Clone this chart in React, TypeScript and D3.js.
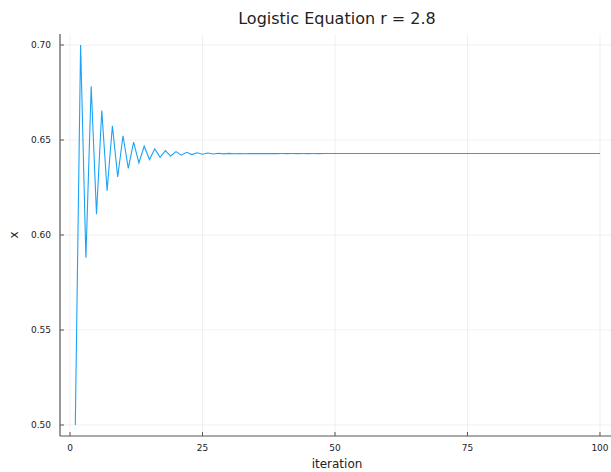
import React from "react";
import * as d3 from "d3";

const title = "Logistic Equation r = 2.8";
const xLabel = "iteration";
const yLabel = "x";
const xTicks = [0, 25, 50, 75, 100];
const yTicks = [0.5, 0.55, 0.6, 0.65, 0.7];

// x_n for iterations 1..100
const xValues = [
  0.5, 0.7, 0.588, 0.67832, 0.61097, 0.66552, 0.62329, 0.65744, 0.6306, 0.65225,
  0.6351, 0.64889, 0.63793, 0.64673, 0.63971, 0.64534, 0.64085, 0.64445, 0.64157, 0.64388,
  0.64204, 0.64351, 0.64233, 0.64328, 0.64252, 0.64313, 0.64264, 0.64303, 0.64272, 0.64297,
  0.64277, 0.64293, 0.6428, 0.6429, 0.64282, 0.64289, 0.64283, 0.64288, 0.64284, 0.64287,
  0.64285, 0.64286, 0.64285, 0.64286, 0.64285, 0.64286, 0.64285, 0.64286, 0.64286, 0.64286,
  0.64286, 0.64286, 0.64286, 0.64286, 0.64286, 0.64286, 0.64286, 0.64286, 0.64286, 0.64286,
  0.64286, 0.64286, 0.64286, 0.64286, 0.64286, 0.64286, 0.64286, 0.64286, 0.64286, 0.64286,
  0.64286, 0.64286, 0.64286, 0.64286, 0.64286, 0.64286, 0.64286, 0.64286, 0.64286, 0.64286,
  0.64286, 0.64286, 0.64286, 0.64286, 0.64286, 0.64286, 0.64286, 0.64286, 0.64286, 0.64286,
  0.64286, 0.64286, 0.64286, 0.64286, 0.64286, 0.64286, 0.64286, 0.64286, 0.64286, 0.64286,
];
const iterations = xValues.map((_, i) => i + 1);

const W = 611;
const H = 472;
const left = 60;
const right = 611;
const top = 34;
const bottom = 436;

export default function App() {
  const x = d3.scaleLinear().domain([-1.887, 102.08]).range([left, right]);
  const y = d3.scaleLinear().domain([0.49421, 0.70579]).range([bottom, top]);
  const line = d3
    .line<number>()
    .x((_, i) => x(iterations[i]))
    .y((d) => y(d));
  const font = "'DejaVu Sans', sans-serif";
  const textColor = "#222";
  return (
    <svg
      width={W}
      height={H}
      style={{ position: "absolute", left: 0, top: 0, background: "#fff" }}
      fontFamily={font}
    >
      <rect x={0} y={0} width={W} height={H} fill="#fff" />
      {xTicks.map((t) => (
        <line key={"gx" + t} x1={x(t)} x2={x(t)} y1={top} y2={bottom} stroke="#000" strokeOpacity={0.06} strokeWidth={1} />
      ))}
      {yTicks.map((t) => (
        <line key={"gy" + t} x1={left} x2={right} y1={y(t)} y2={y(t)} stroke="#000" strokeOpacity={0.06} strokeWidth={1} />
      ))}
      <path d={line(xValues) || ""} fill="none" stroke="#1ba3f7" strokeWidth={1.1} />
      <line x1={left} x2={left} y1={top} y2={bottom} stroke="#555" strokeWidth={1.2} />
      <line x1={left} x2={right} y1={bottom} y2={bottom} stroke="#555" strokeWidth={1.2} />
      {xTicks.map((t) => (
        <g key={"tx" + t}>
          <line x1={x(t)} x2={x(t)} y1={bottom} y2={bottom - 4} stroke="#555" strokeWidth={1} />
          <text x={x(t)} y={451} textAnchor="middle" fontSize={9} fill={textColor}>
            {t}
          </text>
        </g>
      ))}
      {yTicks.map((t) => (
        <g key={"ty" + t}>
          <line x1={left} x2={left + 4} y1={y(t)} y2={y(t)} stroke="#555" strokeWidth={1} />
          <text x={51} y={y(t)} dy="0.35em" textAnchor="end" fontSize={9} fill={textColor}>
            {d3.format(".2f")(t)}
          </text>
        </g>
      ))}
      <text x={337} y={24} textAnchor="middle" fontSize={16} fill={textColor}>
        {title}
      </text>
      <text x={337} y={468} textAnchor="middle" fontSize={12} fill={textColor}>
        {xLabel}
      </text>
      <text
        transform={`translate(18, ${(top + bottom) / 2}) rotate(-90)`}
        textAnchor="middle"
        fontSize={12}
        fill={textColor}
      >
        {yLabel}
      </text>
    </svg>
  );
}
